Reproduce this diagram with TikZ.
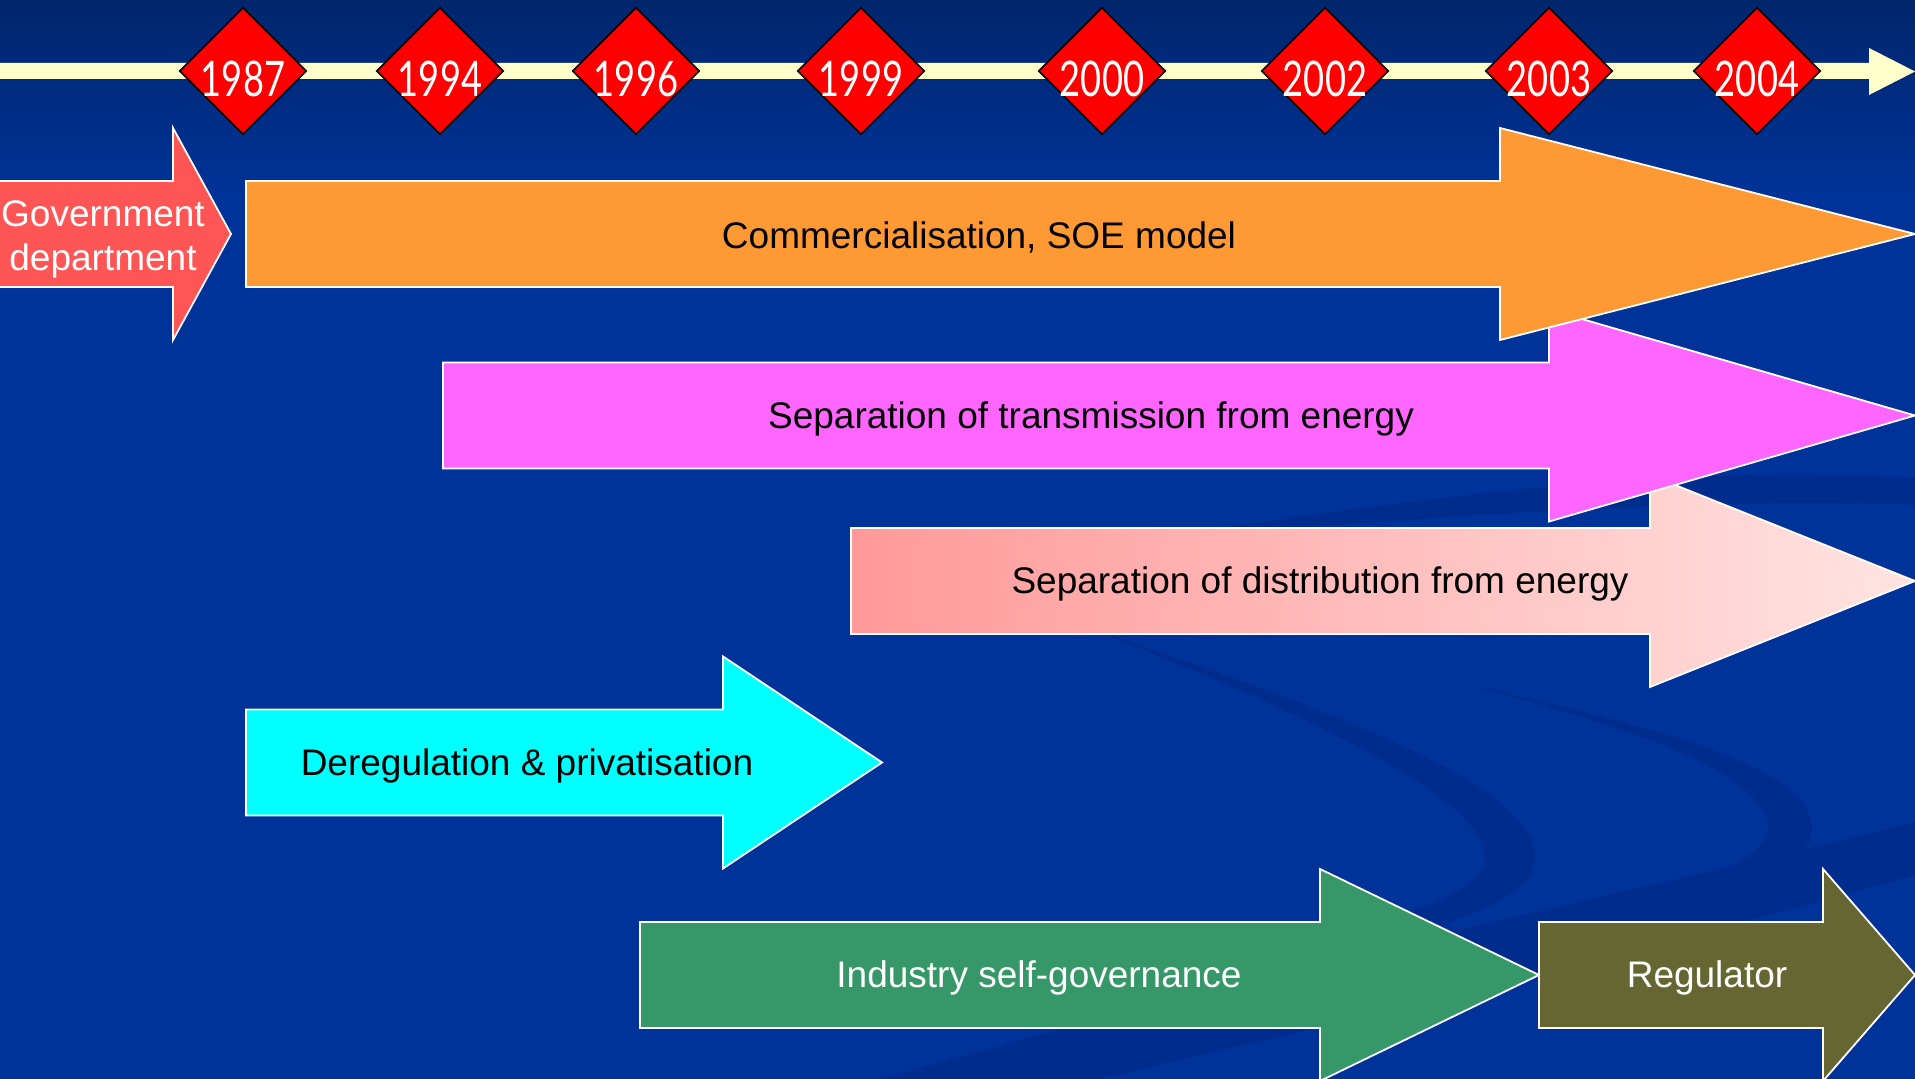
\documentclass[tikz,border=0pt]{standalone}
\usepackage{fontspec}
\usepackage{graphicx}
\setmainfont{Liberation Sans}
\newfontfamily\yearfont{Lato}
\usetikzlibrary{shapes.geometric}

\definecolor{slidebg}{RGB}{0,51,153}
\definecolor{slidetop}{RGB}{0,38,108}
\definecolor{swoosh}{RGB}{0,45,141}
\definecolor{timeline}{RGB}{255,255,204}
\definecolor{govred}{RGB}{255,85,85}
\definecolor{soeorange}{RGB}{255,153,51}
\definecolor{transmag}{RGB}{255,102,255}
\definecolor{distpinkL}{RGB}{255,153,153}
\definecolor{distpinkR}{RGB}{255,228,225}
\definecolor{dereg}{RGB}{0,255,255}
\definecolor{selfgreen}{RGB}{54,152,104}
\definecolor{regolive}{RGB}{102,102,51}

% block arrow: style, left x, head base x, tip x, centre y
\newcommand{\blockarrow}[5]{%
  \path[blockarrow,#1] (#2,#5-53) -- (#3,#5-53) -- (#3,#5-106) -- (#4,#5)
    -- (#3,#5+106) -- (#3,#5+53) -- (#2,#5+53) -- cycle;}

\begin{document}
\begin{tikzpicture}[x=0.5pt,y=-0.5pt,
  blockarrow/.style={draw=white,line width=0.9pt,line join=miter},
  lbl/.style={font=\fontsize{18.5pt}{22pt}\selectfont,align=center,inner sep=0pt,yshift=-1.6pt},
  yeardia/.style={shape=diamond,fill=red,draw=black,line width=0.8pt,
    minimum width=63.5pt,minimum height=63.5pt,inner sep=0pt},
  yeartext/.style={text=white,font=\yearfont\fontsize{24.5pt}{24.5pt}\selectfont,inner sep=0pt}]

\useasboundingbox (0,0) rectangle (1915,1079);
\clip (0,0) rectangle (1915,1079);

% background
\fill[slidebg] (0,0) rectangle (1915,1079);
\shade[top color=slidetop,bottom color=slidebg] (0,0) rectangle (1915,200);

% faint swooshes in the background
\fill[swoosh] (1080,625) .. controls (1300,700) and (1540,780) .. (1535,860)
  .. controls (1530,920) and (1350,950) .. (1150,985)
  .. controls (1330,935) and (1480,905) .. (1485,860)
  .. controls (1490,800) and (1300,710) .. (1080,625) -- cycle;
\fill[swoosh] (1450,680) .. controls (1620,720) and (1815,760) .. (1812,830)
  .. controls (1810,860) and (1770,880) .. (1715,872)
  .. controls (1760,855) and (1775,835) .. (1765,815)
  .. controls (1740,760) and (1600,720) .. (1450,680) -- cycle;
\fill[swoosh] (880,1079) .. controls (1300,960) and (1600,900) .. (1915,822)
  -- (1915,875) .. controls (1650,950) and (1350,1020) .. (1100,1079) -- cycle;
\fill[swoosh] (1150,540) .. controls (1450,490) and (1700,465) .. (1915,478)
  -- (1915,505) .. controls (1700,497) and (1450,515) .. (1150,540) -- cycle;

% timeline
\path[fill=timeline] (0,63) -- (1869,63) -- (1869,48) -- (1915,71.5)
  -- (1869,95) -- (1869,79) -- (0,79) -- cycle;

\foreach \yr/\xx in {1987/243,1994/440,1996/636,1999/861,2000/1102,2002/1325,2003/1549,2004/1757} {
  \node[yeardia] (d\yr) at (\xx,71) {};
  \node[yeartext,yshift=-3.75pt] (t\yr) at (d\yr) {\scalebox{0.74}[1]{\yr}};
}

% phase arrows
\blockarrow{left color=distpinkL,right color=distpinkR}{851}{1650}{1915}{581}
\blockarrow{fill=transmag}{443}{1549}{1915}{415.5}
\blockarrow{fill=soeorange}{246}{1500}{1915}{234}
\blockarrow{fill=govred}{-10}{173}{231}{234}
\blockarrow{fill=dereg}{246}{723}{882}{762.5}
\blockarrow{fill=selfgreen}{640}{1320}{1539}{975}
\blockarrow{fill=regolive}{1539}{1823}{1915}{975}

% labels
\node[lbl,text=white] (gov) at (103,236) {Government\\department};
\node[lbl] (soe) at (979,234) {Commercialisation, SOE model};
\node[lbl] (trans) at (1091,415.5) {Separation of transmission from energy};
\node[lbl] (dist) at (1320,581) {Separation of distribution from energy};
\node[lbl] (dereg) at (527,762.5) {Deregulation \& privatisation};
\node[lbl,text=white] (selfgov) at (1039,975) {Industry self-governance};
\node[lbl,text=white] (reg) at (1707,975) {Regulator};
\end{tikzpicture}
\end{document}
